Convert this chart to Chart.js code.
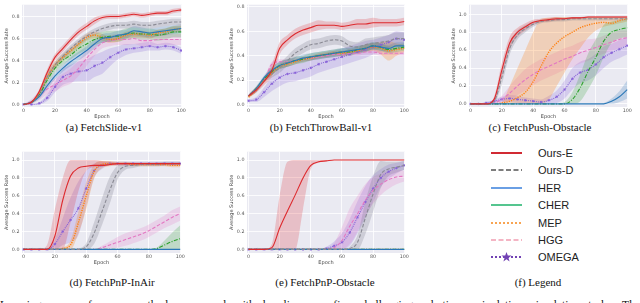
<!DOCTYPE html>
<html>
<head>
<meta charset="utf-8">
<script src="https://cdn.jsdelivr.net/npm/chart.js@4.4.0/dist/chart.umd.min.js"></script>
<style>
html, body { margin: 0; padding: 0; background: #fff; width: 640px; height: 303px; overflow: hidden; }
body { position: relative; }
.panel { position: absolute; }
.cap { position: absolute; font: 11px "Liberation Serif", serif; color: #111; white-space: nowrap; line-height: 14px; transform: translateX(-50%); }
.leg-row { position: absolute; left: 488px; height: 12px; }
.leg-row svg { position: absolute; left: 0; top: 0; }
.leg-row span { position: absolute; left: 50px; top: -1px; font: 11px "Liberation Sans", Arial, sans-serif; color: #222; white-space: nowrap; line-height: 14px; }
#body-text { position: absolute; left: 0; top: 299px; width: 640px; font: 11.5px "Liberation Serif", serif; color: #111; line-height: 12px; text-align: justify; text-align-last: justify; }
</style>
</head>
<body>
<div class="panel" style="left:0;top:0;width:190px;height:120px"><canvas id="slide"></canvas></div>
<div class="panel" style="left:225px;top:0;width:188px;height:120px"><canvas id="throw"></canvas></div>
<div class="panel" style="left:447px;top:0;width:189px;height:120px"><canvas id="push"></canvas></div>
<div class="panel" style="left:0;top:147px;width:189px;height:119px"><canvas id="inair"></canvas></div>
<div class="panel" style="left:225px;top:147px;width:188px;height:119px"><canvas id="obst"></canvas></div>

<div class="cap" style="left:104px;top:120px">(a) FetchSlide-v1</div>
<div class="cap" style="left:321px;top:120px">(b) FetchThrowBall-v1</div>
<div class="cap" style="left:540px;top:120px">(c) FetchPush-Obstacle</div>
<div class="cap" style="left:112px;top:275px">(d) FetchPnP-InAir</div>
<div class="cap" style="left:325px;top:275px">(e) FetchPnP-Obstacle</div>
<div class="cap" style="left:538px;top:275px">(f) Legend</div>
<div id="legend"></div>
<div id="body-text">Learning curves for our methods compared with baselines on five challenging robotic manipulation simulation tasks. The</div>

<script>
// x values of every curve
const epochs = [0, 5, 10, 15, 20, 25, 30, 35, 40, 45, 50, 55, 60, 65, 70, 75, 80, 85, 90, 95, 100];
const seriesNames = ['Ours-E', 'Ours-D', 'HER', 'CHER', 'MEP', 'HGG', 'OMEGA'];

// (a) FetchSlide-v1 : mean curves and band half widths, same order as seriesNames
const slideMean = [
    [0, 0.02, 0.12, 0.29, 0.43, 0.51, 0.59, 0.66, 0.71, 0.76, 0.79, 0.80, 0.80, 0.81, 0.82, 0.81, 0.82, 0.83, 0.83, 0.85, 0.86],
    [0, 0.02, 0.10, 0.25, 0.36, 0.44, 0.51, 0.57, 0.62, 0.66, 0.69, 0.71, 0.72, 0.72, 0.73, 0.72, 0.72, 0.73, 0.74, 0.75, 0.75],
    [0, 0.02, 0.07, 0.17, 0.26, 0.33, 0.39, 0.44, 0.49, 0.55, 0.60, 0.61, 0.63, 0.64, 0.67, 0.66, 0.65, 0.66, 0.67, 0.68, 0.69],
    [0, 0.02, 0.09, 0.22, 0.33, 0.40, 0.45, 0.51, 0.55, 0.59, 0.61, 0.62, 0.62, 0.64, 0.65, 0.64, 0.64, 0.63, 0.64, 0.66, 0.66],
    [0, 0.02, 0.10, 0.25, 0.36, 0.43, 0.49, 0.55, 0.61, 0.63, 0.61, 0.59, 0.60, 0.63, 0.64, 0.64, 0.63, 0.65, 0.66, 0.68, 0.69],
    [0, 0.03, 0.08, 0.14, 0.18, 0.22, 0.26, 0.33, 0.42, 0.50, 0.56, 0.58, 0.59, 0.59, 0.60, 0.58, 0.58, 0.59, 0.59, 0.59, 0.59],
    [0, 0, 0.01, 0.06, 0.16, 0.25, 0.28, 0.30, 0.31, 0.35, 0.38, 0.43, 0.47, 0.50, 0.51, 0.52, 0.53, 0.52, 0.53, 0.52, 0.49]
];
const slideSd = [
    [0, 0.01, 0.02, 0.03, 0.03, 0.03, 0.03, 0.03, 0.03, 0.03, 0.02, 0.02, 0.02, 0.02, 0.02, 0.02, 0.02, 0.02, 0.02, 0.02, 0.02],
    [0, 0.01, 0.02, 0.03, 0.03, 0.03, 0.03, 0.03, 0.03, 0.03, 0.03, 0.03, 0.03, 0.03, 0.03, 0.03, 0.03, 0.03, 0.03, 0.03, 0.03],
    [0, 0.01, 0.02, 0.03, 0.03, 0.03, 0.04, 0.04, 0.04, 0.04, 0.04, 0.04, 0.04, 0.04, 0.04, 0.04, 0.04, 0.04, 0.04, 0.04, 0.04],
    [0, 0.01, 0.02, 0.03, 0.04, 0.04, 0.04, 0.05, 0.05, 0.05, 0.05, 0.05, 0.05, 0.05, 0.05, 0.05, 0.05, 0.05, 0.05, 0.05, 0.05],
    [0, 0.01, 0.02, 0.03, 0.03, 0.03, 0.03, 0.03, 0.03, 0.03, 0.03, 0.03, 0.03, 0.03, 0.03, 0.03, 0.03, 0.03, 0.03, 0.03, 0.03],
    [0, 0.02, 0.04, 0.05, 0.06, 0.06, 0.07, 0.07, 0.07, 0.06, 0.05, 0.05, 0.05, 0.05, 0.05, 0.05, 0.05, 0.05, 0.05, 0.05, 0.05],
    [0, 0, 0.01, 0.03, 0.05, 0.07, 0.08, 0.09, 0.10, 0.10, 0.10, 0.08, 0.06, 0.05, 0.04, 0.04, 0.04, 0.03, 0.03, 0.03, 0.03]
];

// (b) FetchThrowBall-v1
const throwMean = [
    [0.07, 0.12, 0.19, 0.28, 0.46, 0.53, 0.58, 0.61, 0.63, 0.65, 0.65, 0.65, 0.64, 0.65, 0.66, 0.66, 0.67, 0.67, 0.67, 0.67, 0.68],
    [0.07, 0.12, 0.20, 0.25, 0.30, 0.36, 0.42, 0.46, 0.49, 0.50, 0.52, 0.53, 0.52, 0.48, 0.47, 0.49, 0.50, 0.51, 0.52, 0.54, 0.54],
    [0.07, 0.13, 0.22, 0.28, 0.32, 0.34, 0.36, 0.38, 0.39, 0.40, 0.41, 0.42, 0.43, 0.44, 0.45, 0.46, 0.48, 0.47, 0.46, 0.48, 0.48],
    [0.07, 0.13, 0.21, 0.27, 0.32, 0.34, 0.36, 0.37, 0.39, 0.40, 0.41, 0.42, 0.43, 0.43, 0.45, 0.46, 0.48, 0.47, 0.45, 0.46, 0.47],
    [0.06, 0.12, 0.20, 0.26, 0.31, 0.33, 0.35, 0.37, 0.38, 0.40, 0.41, 0.42, 0.42, 0.43, 0.44, 0.46, 0.47, 0.46, 0.44, 0.45, 0.46],
    [0.07, 0.12, 0.20, 0.33, 0.35, 0.35, 0.36, 0.37, 0.38, 0.39, 0.40, 0.41, 0.41, 0.42, 0.42, 0.43, 0.43, 0.42, 0.42, 0.42, 0.42],
    [0.03, 0.04, 0.10, 0.17, 0.22, 0.25, 0.26, 0.28, 0.30, 0.33, 0.35, 0.37, 0.39, 0.41, 0.43, 0.45, 0.47, 0.49, 0.51, 0.54, 0.53]
];
const throwSd = [
    [0.01, 0.02, 0.03, 0.05, 0.05, 0.04, 0.04, 0.04, 0.04, 0.04, 0.03, 0.03, 0.03, 0.03, 0.04, 0.04, 0.04, 0.03, 0.03, 0.03, 0.03],
    [0.01, 0.02, 0.02, 0.03, 0.04, 0.04, 0.04, 0.04, 0.04, 0.04, 0.04, 0.04, 0.04, 0.04, 0.04, 0.05, 0.05, 0.05, 0.05, 0.05, 0.05],
    [0.01, 0.02, 0.02, 0.03, 0.03, 0.03, 0.03, 0.03, 0.03, 0.03, 0.03, 0.03, 0.03, 0.03, 0.03, 0.03, 0.03, 0.03, 0.03, 0.03, 0.03],
    [0.01, 0.02, 0.02, 0.03, 0.03, 0.03, 0.03, 0.03, 0.03, 0.03, 0.03, 0.03, 0.03, 0.03, 0.03, 0.03, 0.03, 0.03, 0.03, 0.03, 0.03],
    [0.01, 0.02, 0.02, 0.02, 0.02, 0.02, 0.02, 0.02, 0.02, 0.02, 0.02, 0.02, 0.02, 0.02, 0.02, 0.03, 0.03, 0.05, 0.08, 0.05, 0.03],
    [0.01, 0.02, 0.02, 0.02, 0.02, 0.02, 0.02, 0.02, 0.02, 0.02, 0.02, 0.02, 0.02, 0.02, 0.02, 0.02, 0.02, 0.02, 0.02, 0.02, 0.02],
    [0.01, 0.02, 0.04, 0.06, 0.07, 0.07, 0.07, 0.07, 0.07, 0.07, 0.07, 0.07, 0.07, 0.07, 0.07, 0.07, 0.06, 0.06, 0.06, 0.06, 0.06]
];

// (c) FetchPush-Obstacle
const pushMean = [
    [0, 0, 0, 0.05, 0.38, 0.68, 0.80, 0.86, 0.91, 0.93, 0.94, 0.95, 0.95, 0.96, 0.96, 0.97, 0.97, 0.97, 0.97, 0.97, 0.97],
    [0, 0, 0, 0.03, 0.30, 0.62, 0.77, 0.84, 0.89, 0.92, 0.93, 0.94, 0.94, 0.95, 0.95, 0.95, 0.95, 0.95, 0.95, 0.95, 0.95],
    [0, 0, 0, 0, 0, 0, 0, 0, 0, 0, 0, 0, 0, 0, 0, 0, 0, 0, 0.03, 0.08, 0.16],
    [0, 0, 0, 0, 0, 0, 0, 0, 0, 0, 0, 0, 0, 0.05, 0.18, 0.36, 0.52, 0.70, 0.80, 0.83, 0.85],
    [0, 0, 0, 0, 0.01, 0.03, 0.07, 0.13, 0.25, 0.42, 0.58, 0.68, 0.75, 0.80, 0.85, 0.88, 0.90, 0.91, 0.90, 0.93, 0.95],
    [0, 0, 0, 0.01, 0.05, 0.12, 0.20, 0.27, 0.33, 0.38, 0.42, 0.46, 0.50, 0.53, 0.57, 0.60, 0.63, 0.66, 0.69, 0.72, 0.74],
    [0, 0, 0.01, 0.03, 0.05, 0.06, 0.05, 0.04, 0.03, 0.02, 0.04, 0.08, 0.16, 0.28, 0.35, 0.38, 0.44, 0.52, 0.57, 0.61, 0.65]
];
const pushSd = [
    [0, 0, 0, 0.03, 0.08, 0.07, 0.05, 0.04, 0.03, 0.02, 0.02, 0.02, 0.01, 0.01, 0.01, 0.01, 0.01, 0.01, 0.01, 0.01, 0.01],
    [0, 0, 0, 0.02, 0.08, 0.07, 0.05, 0.04, 0.03, 0.02, 0.02, 0.02, 0.02, 0.02, 0.02, 0.02, 0.02, 0.02, 0.02, 0.02, 0.02],
    [0, 0, 0, 0, 0, 0, 0, 0, 0, 0, 0, 0, 0, 0, 0, 0, 0, 0.01, 0.03, 0.06, 0.10],
    [0, 0, 0, 0, 0, 0, 0, 0, 0, 0, 0, 0, 0.02, 0.08, 0.15, 0.20, 0.20, 0.18, 0.12, 0.10, 0.10],
    null,
    [0, 0, 0, 0.01, 0.04, 0.08, 0.10, 0.12, 0.12, 0.12, 0.12, 0.12, 0.12, 0.12, 0.12, 0.12, 0.10, 0.10, 0.10, 0.10, 0.08],
    [0, 0, 0.01, 0.02, 0.03, 0.04, 0.04, 0.03, 0.03, 0.03, 0.05, 0.07, 0.10, 0.12, 0.12, 0.12, 0.12, 0.12, 0.10, 0.10, 0.10]
];
// MEP band in (c) is very lopsided, so its edges are read directly
const pushMepLo = [0, 0, 0, 0, 0, 0, 0, 0, 0, 0, 0.05, 0.20, 0.35, 0.50, 0.62, 0.74, 0.82, 0.86, 0.88, 0.90, 0.92];
const pushMepHi = [0, 0, 0, 0, 0.02, 0.20, 0.40, 0.60, 0.80, 0.95, 0.96, 0.97, 0.97, 0.97, 0.97, 0.97, 0.97, 0.97, 0.97, 0.97, 0.97];

// (d) FetchPnP-InAir
const inairMean = [
    [0, 0, 0, 0, 0.15, 0.55, 0.82, 0.91, 0.93, 0.94, 0.94, 0.95, 0.96, 0.96, 0.96, 0.96, 0.96, 0.96, 0.96, 0.96, 0.96],
    [0, 0, 0, 0, 0, 0, 0, 0, 0.03, 0.18, 0.42, 0.66, 0.86, 0.93, 0.94, 0.95, 0.95, 0.95, 0.96, 0.96, 0.96],
    [0, 0, 0, 0, 0, 0, 0, 0, 0, 0, 0, 0, 0, 0, 0, 0, 0, 0, 0, 0, 0],
    [0, 0, 0, 0, 0, 0, 0, 0, 0, 0, 0, 0, 0, 0, 0, 0, 0, 0.01, 0.05, 0.09, 0.12],
    [0, 0, 0, 0, 0, 0.01, 0.05, 0.30, 0.60, 0.87, 0.95, 0.96, 0.96, 0.96, 0.95, 0.95, 0.95, 0.95, 0.95, 0.94, 0.94],
    [0, 0, 0, 0, 0, 0, 0, 0, 0, 0, 0.02, 0.05, 0.08, 0.11, 0.14, 0.17, 0.21, 0.26, 0.31, 0.36, 0.40],
    [0, 0, 0, 0, 0.06, 0.20, 0.33, 0.46, 0.68, 0.88, 0.94, 0.96, 0.96, 0.96, 0.96, 0.96, 0.96, 0.96, 0.96, 0.96, 0.96]
];
const inairSd = [
    null,
    [0, 0, 0, 0, 0, 0, 0, 0.01, 0.04, 0.12, 0.15, 0.15, 0.08, 0.04, 0.03, 0.02, 0.02, 0.02, 0.02, 0.02, 0.02],
    [0, 0, 0, 0, 0, 0, 0, 0, 0, 0, 0, 0, 0, 0, 0, 0, 0, 0, 0, 0, 0],
    [0, 0, 0, 0, 0, 0, 0, 0, 0, 0, 0, 0, 0, 0, 0, 0, 0, 0.01, 0.05, 0.10, 0.15],
    [0, 0, 0, 0, 0, 0.01, 0.05, 0.12, 0.15, 0.08, 0.04, 0.03, 0.02, 0.02, 0.02, 0.02, 0.02, 0.02, 0.02, 0.02, 0.02],
    [0, 0, 0, 0, 0, 0, 0, 0, 0, 0, 0.02, 0.04, 0.06, 0.07, 0.07, 0.07, 0.07, 0.07, 0.07, 0.08, 0.08],
    [0, 0, 0, 0, 0.06, 0.15, 0.25, 0.30, 0.20, 0.08, 0.04, 0.02, 0.02, 0.02, 0.02, 0.02, 0.02, 0.02, 0.02, 0.02, 0.02]
];
const inairOursELo = [0, 0, 0, 0, 0, 0, 0.30, 0.65, 0.88, 0.92, 0.93, 0.94, 0.95, 0.95, 0.95, 0.95, 0.95, 0.95, 0.95, 0.95, 0.95];
const inairOursEHi = [0, 0, 0, 0.05, 0.45, 0.80, 1, 1, 1, 1, 0.99, 0.98, 0.97, 0.97, 0.97, 0.97, 0.97, 0.97, 0.97, 0.97, 0.97];

// (e) FetchPnP-Obstacle
const obstMean = [
    [0, 0, 0, 0.02, 0.24, 0.43, 0.61, 0.80, 0.94, 0.98, 0.99, 1, 1, 1, 1, 1, 1, 1, 1, 1, 1],
    [0, 0, 0, 0, 0, 0, 0, 0, 0, 0, 0, 0, 0, 0.01, 0.08, 0.35, 0.62, 0.84, 0.90, 0.92, 0.94],
    [0, 0, 0, 0, 0, 0, 0, 0, 0, 0, 0, 0, 0, 0, 0, 0, 0, 0, 0, 0, 0],
    [0, 0, 0, 0, 0, 0, 0, 0, 0, 0, 0, 0, 0, 0, 0, 0, 0, 0, 0, 0, 0],
    [0, 0, 0, 0, 0, 0, 0, 0, 0, 0, 0, 0, 0, 0, 0, 0, 0, 0, 0, 0, 0],
    [0, 0, 0, 0, 0, 0, 0, 0, 0, 0, 0, 0.02, 0.10, 0.26, 0.40, 0.55, 0.66, 0.73, 0.78, 0.81, 0.82],
    [0, 0, 0, 0, 0, 0, 0, 0, 0, 0, 0.01, 0.04, 0.08, 0.19, 0.36, 0.53, 0.68, 0.80, 0.87, 0.91, 0.94]
];
const obstSd = [
    null,
    [0, 0, 0, 0, 0, 0, 0, 0, 0, 0, 0, 0, 0, 0.02, 0.08, 0.18, 0.20, 0.15, 0.08, 0.06, 0.05],
    [0, 0, 0, 0, 0, 0, 0, 0, 0, 0, 0, 0, 0, 0, 0, 0, 0, 0, 0, 0, 0],
    [0, 0, 0, 0, 0, 0, 0, 0, 0, 0, 0, 0, 0, 0, 0, 0, 0, 0, 0, 0, 0],
    [0, 0, 0, 0, 0, 0, 0, 0, 0, 0, 0, 0, 0, 0, 0, 0, 0, 0, 0, 0, 0],
    [0, 0, 0, 0, 0, 0, 0, 0, 0, 0, 0, 0.05, 0.15, 0.20, 0.20, 0.18, 0.15, 0.12, 0.10, 0.08, 0.06],
    [0, 0, 0, 0, 0, 0, 0, 0, 0, 0, 0.02, 0.05, 0.10, 0.15, 0.18, 0.18, 0.15, 0.10, 0.08, 0.06, 0.05]
];
const obstOursELo = [0, 0, 0, 0, 0, 0, 0, 0.45, 0.90, 0.97, 0.99, 1, 1, 1, 1, 1, 1, 1, 1, 1, 1];
const obstOursEHi = [0, 0, 0, 0.06, 0.60, 0.98, 1, 1, 1, 1, 1, 1, 1, 1, 1, 1, 1, 1, 1, 1, 1];

// y tick labels
const yTicks = [0, 0.2, 0.4, 0.6, 0.8, 1.0];

// ---- styles ----
const lineColors = ['#dd2a2e', '#8a8a94', '#2a78b8', '#2ca02c', '#ff7f0e', '#e377c2', '#8660d8'];
const bandColors = ['rgba(221,42,46,0.22)', 'rgba(120,120,135,0.25)', 'rgba(42,120,184,0.22)', 'rgba(44,160,44,0.22)',
                    'rgba(255,127,14,0.25)', 'rgba(227,119,194,0.22)', 'rgba(134,96,216,0.22)'];
const lineDashes = [[], [3.5, 1.8], [], [4, 1.5, 1, 1.5], [1.2, 1.2], [3.5, 1.8], [1, 1]];
const legendColors = ['#d12a33', '#7d7d7d', '#6a9fe4', '#55c58f', '#f8a452', '#f4b5c4', '#7242b4'];
const legendDashes = ['', '5 2.5', '', '', '2 2', '5 2.5', '2 2'];

const plotBg = {
    id: 'plotBg',
    beforeDraw(chart) {
        const { ctx, chartArea: a } = chart;
        ctx.save();
        ctx.fillStyle = '#eaeaf2';
        ctx.fillRect(a.left, a.top, a.width, a.height);
        ctx.restore();
    }
};

function pts(values) {
    return epochs.map((e, k) => ({ x: e, y: values[k] }));
}

function makeChart(id, means, sds, edges, yMin, yMax) {
    const datasets = [];
    means.forEach((m, i) => {
        datasets.push({
            label: seriesNames[i],
            data: pts(m),
            borderColor: lineColors[i],
            backgroundColor: lineColors[i],
            borderWidth: i === 4 ? 1.4 : 1.1,
            borderDash: lineDashes[i],
            pointRadius: i === 6 ? 1.3 : 0,
            pointStyle: 'star',
            pointBorderWidth: 0.7,
            fill: false,
            cubicInterpolationMode: 'monotone',
            order: i
        });
    });
    means.forEach((m, i) => {
        let lo, hi;
        if (edges[i]) {
            lo = edges[i][0];
            hi = edges[i][1];
        } else {
            lo = m.map((v, k) => Math.max(0, v - sds[i][k]));
            hi = m.map((v, k) => Math.min(1, v + sds[i][k]));
        }
        datasets.push({
            data: pts(hi), fill: '+1', backgroundColor: bandColors[i],
            borderColor: 'transparent', borderWidth: 0, pointRadius: 0,
            cubicInterpolationMode: 'monotone', order: 10 + i
        });
        datasets.push({
            data: pts(lo), fill: false, backgroundColor: 'transparent',
            borderColor: 'transparent', borderWidth: 0, pointRadius: 0,
            cubicInterpolationMode: 'monotone', order: 10 + i
        });
    });

    const tickFont = { family: 'DejaVu Sans', size: 4.8 };
    const titleFont = { family: 'DejaVu Sans', size: 5 };
    return new Chart(document.getElementById(id).getContext('2d'), {
        type: 'line',
        data: { datasets: datasets },
        options: {
            animation: false,
            responsive: true,
            maintainAspectRatio: false,
            layout: { padding: { top: 0, left: 0, right: 8, bottom: 0 } },
            plugins: { legend: { display: false }, tooltip: { enabled: false } },
            scales: {
                x: {
                    type: 'linear', min: -1, max: 100.5,
                    ticks: { stepSize: 20, includeBounds: false, padding: 0.5, maxRotation: 0, font: tickFont, color: '#555' },
                    grid: { color: '#ffffff', lineWidth: 0.8, drawTicks: false },
                    border: { display: false },
                    title: { display: true, text: 'Epoch', font: titleFont, color: '#444', padding: 0 },
                    afterFit: function(s) { s.height = 13; s.paddingLeft = 0; s.paddingRight = 0; }
                },
                y: {
                    type: 'linear', min: yMin, max: yMax,
                    afterBuildTicks: function(s) {
                        s.ticks = yTicks.filter(v => v <= yMax).map(v => ({ value: v }));
                    },
                    ticks: {
                        padding: 2.5, font: tickFont, color: '#555',
                        callback: function(value) { return value.toFixed(1); }
                    },
                    grid: { color: '#ffffff', lineWidth: 0.8, drawTicks: false },
                    border: { display: false },
                    title: { display: true, text: 'Average Success Rate', font: titleFont, color: '#444', padding: { top: 4, bottom: 0 } },
                    afterFit: function(s) { s.width = 22; s.paddingTop = 0; s.paddingBottom = 0; }
                }
            }
        },
        plugins: [plotBg]
    });
}

makeChart('slide', slideMean, slideSd, [], -0.0235, 0.907);
makeChart('throw', throwMean, throwSd, [], -0.021, 0.818);
makeChart('push', pushMean, pushSd, [null, null, null, null, [pushMepLo, pushMepHi]], -0.035, 1.107);
makeChart('inair', inairMean, inairSd, [[inairOursELo, inairOursEHi]], -0.04, 1.093);
makeChart('obst', obstMean, obstSd, [[obstOursELo, obstOursEHi]], -0.04, 1.093);

// legend panel (f)
const legendBox = document.getElementById('legend');
seriesNames.forEach((name, i) => {
    const row = document.createElement('div');
    row.className = 'leg-row';
    row.style.top = (147 + i * 17.4) + 'px';
    let svg = '<svg width="40" height="12" xmlns="http://www.w3.org/2000/svg">' +
        '<line x1="3" y1="6" x2="34" y2="6" stroke="' + legendColors[i] + '" stroke-width="2"' +
        (legendDashes[i] ? ' stroke-dasharray="' + legendDashes[i] + '"' : '') + '/>';
    if (name === 'OMEGA') {
        svg += '<polygon points="18.5,1 19.8,4.6 23.5,4.6 20.5,6.9 21.6,10.5 18.5,8.3 15.4,10.5 16.5,6.9 13.5,4.6 17.2,4.6" fill="' + legendColors[i] + '"/>';
    }
    svg += '</svg>';
    row.innerHTML = svg + '<span>' + name + '</span>';
    legendBox.appendChild(row);
});
</script>
</body>
</html>
